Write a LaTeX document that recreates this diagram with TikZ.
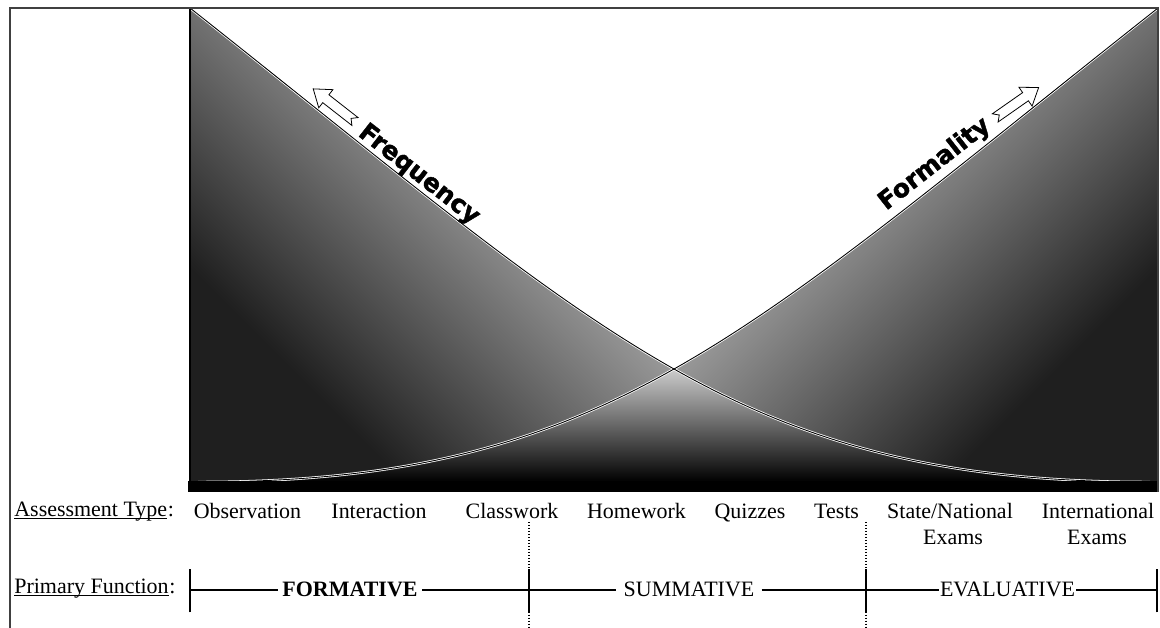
\documentclass[tikz,border=0pt]{standalone}
\usepackage{fontspec}
\setmainfont{Liberation Serif}
\newfontfamily\headfont{DejaVu Sans}[BoldFeatures={FakeBold=1.6}]
\pgfdeclareverticalshading{diagshade}{100bp}{color(0bp)=(black!88); color(25bp)=(black!88); color(60bp)=(white); color(100bp)=(white)}
\begin{document}
\begin{tikzpicture}[x=0.02cm, y=-0.02cm,
  lbl/.style={font=\fontsize{12.5}{15}\selectfont, inner sep=0pt},
  funclbl/.style={font=\fontsize{12.5}{15}\selectfont, inner ysep=1pt},
  slopetext/.style={font=\headfont\bfseries\fontsize{14.2}{16}\selectfont, inner sep=0pt},
  frameline/.style={draw=black!75, line width=0.8pt},
  axisline/.style={line width=1.1pt},
  functick/.style={line width=1.1pt},
  divider/.style={line width=0.7pt, densely dotted, black},
  curveback/.style={white, line width=1.4pt},
  curvefront/.style={black, line width=0.5pt},
  hollowarrow/.pic={\draw[fill=white, line width=0.45pt] (-26,-5) -- (11,-5) -- (11,-11.5) -- (27,0) -- (11,11.5) -- (11,5) -- (-26,5) -- (-21,0) -- cycle;}
]
\useasboundingbox (0,0) rectangle (1160,628);
\fill[white] (0,0) rectangle (1160,628);
% frequency (left) and formality (right) areas
\shade[shading=diagshade, shading angle=-45] (190,8) .. controls (610,340) and (743,482) .. (1150,482) -- (190,482) -- cycle;
\shade[shading=diagshade, shading angle=45] (1158,8) .. controls (738,340) and (605,482) .. (198,482) -- (1158,482) -- cycle;
% overlap
\begin{scope}
  \clip (190,8) .. controls (610,340) and (743,482) .. (1150,482) -- (190,482) -- cycle;
  \clip (1158,8) .. controls (738,340) and (605,482) .. (198,482) -- (1158,482) -- cycle;
  \shade[top color=black!20, middle color=black!50, bottom color=black] (190,369) rectangle (1158,482);
\end{scope}
% curves
\draw[curveback] (190,8) .. controls (610,340) and (743,482) .. (1150,482);
\draw[curveback] (1158,8) .. controls (738,340) and (605,482) .. (198,482);
\draw[curvefront] (190,8) .. controls (610,340) and (743,482) .. (1150,482);
\draw[curvefront] (1158,8) .. controls (738,340) and (605,482) .. (198,482);
% base band and frame
\fill[black] (188,481) rectangle (1158,492);
\draw[line width=0.9pt] (190,8) -- (190,482);
\draw[frameline] (10,628) -- (10,8) -- (1158,8) -- (1158,492);
% slope labels and arrows
\node[slopetext, anchor=base west, rotate=-38] (freq) at (357,135) {Frequency};
\node[slopetext, anchor=base west, rotate=38] (form) at (886,211) {Formality};
\pic[rotate=142] at (334.5,105.5) {hollowarrow};
\pic[rotate=35] at (1016.5,103) {hollowarrow};
% row labels
\node[lbl, anchor=base west] (atype) at (14,516) {Assessment Type};
\node[lbl, anchor=base west] (atypec) at (atype.base east) {:};
\draw[line width=0.5pt] ([yshift=-1.6pt]atype.base west) -- ([yshift=-1.6pt]atype.base east);
\node[lbl, anchor=base west] (pfunc) at (14,593) {Primary Function};
\node[lbl, anchor=base west] (pfuncc) at (pfunc.base east) {:};
\draw[line width=0.5pt] ([yshift=-1.6pt]pfunc.base west) -- ([yshift=-1.6pt]pfunc.base east);
% assessment types
\node[lbl, anchor=base] (obs) at (247.5,518) {Observation};
\node[lbl, anchor=base] (inter) at (379,518) {Interaction};
\node[lbl, anchor=base] (cls) at (512,518) {Classwork};
\node[lbl, anchor=base] (hw) at (636.5,518) {Homework};
\node[lbl, anchor=base] (qz) at (750,518) {Quizzes};
\node[lbl, anchor=base] (ts) at (836.5,518) {Tests};
\node[lbl, anchor=base] (sn) at (950,518) {State/National};
\node[lbl, anchor=base] (sn2) at (953,544) {Exams};
\node[lbl, anchor=base] (intl) at (1098,518) {International};
\node[lbl, anchor=base] (intl2) at (1097,544) {Exams};
% dividers
\coordinate (d1top) at (529,522);
\coordinate (d1bot) at (529,628);
\coordinate (d2top) at (866,522);
\coordinate (d2bot) at (866,628);
\draw[divider] (d1top) -- (d1bot);
\draw[divider] (d2top) -- (d2bot);
% function axis
\coordinate (t0) at (190,590);
\coordinate (t1) at (529,590);
\coordinate (t2) at (866,590);
\coordinate (t3) at (1157,590);
\foreach \t in {t0,t1,t2,t3}{
  \draw[functick] ([yshift=-12.8pt]\t) -- ([yshift=12.2pt]\t);
}
\node[funclbl, font=\fontsize{12.5}{15}\selectfont\bfseries, inner xsep=2.5pt, anchor=base] (fmt) at (350,596) {FORMATIVE};
\node[funclbl, inner xsep=4pt, anchor=base] (smt) at (689,596) {SUMMATIVE};
\node[funclbl, inner xsep=0.6pt, anchor=base] (evl) at (1007.5,596) {EVALUATIVE};
\draw[axisline] (t0) -- (t0 -| fmt.west);
\draw[axisline] (t0 -| fmt.east) -- (t1);
\draw[axisline] (t1) -- (t1 -| smt.west);
\draw[axisline] (t1 -| smt.east) -- (t2);
\draw[axisline] (t2) -- (t2 -| evl.west);
\draw[axisline] (t2 -| evl.east) -- (t3);
\end{tikzpicture}
\end{document}
